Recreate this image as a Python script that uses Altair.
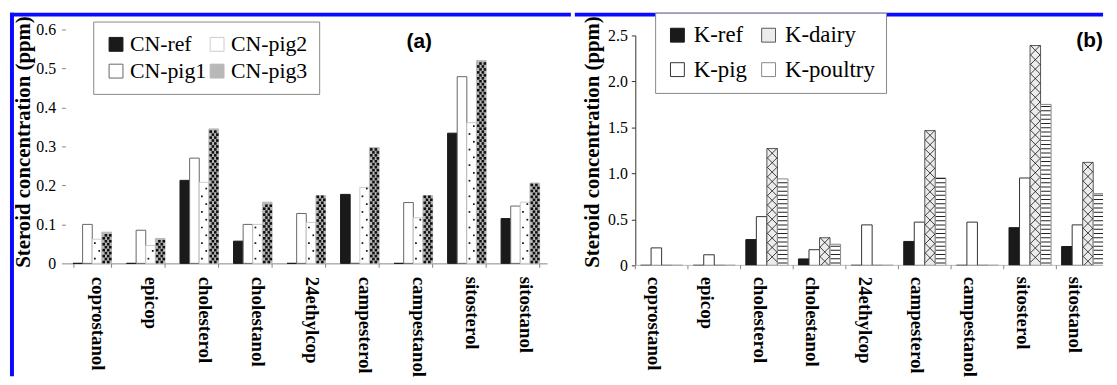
import altair as alt
import pandas as pd

# ---------------- data ----------------
categories = ["coprostanol", "epicop", "cholesterol", "cholestanol", "24ethylcop",
              "campesterol", "campestanol", "sitosterol", "sitostanol"]

cn_series = ["CN-ref", "CN-pig1", "CN-pig2", "CN-pig3"]
cn_ref  = [0.0, 0.0, 0.213, 0.057, 0.0, 0.177, 0.0, 0.334, 0.115]
cn_pig1 = [0.100, 0.085, 0.270, 0.100, 0.128, 0.0, 0.156, 0.479, 0.147]
cn_pig2 = [0.062, 0.046, 0.208, 0.100, 0.105, 0.195, 0.117, 0.361, 0.157]
cn_pig3 = [0.080, 0.064, 0.345, 0.157, 0.174, 0.297, 0.174, 0.520, 0.206]

k_series = ["K-ref", "K-pig", "K-dairy", "K-poultry"]
k_ref     = [0.0, 0.0, 0.28, 0.07, 0.0, 0.26, 0.0, 0.41, 0.205]
k_pig     = [0.19, 0.115, 0.53, 0.17, 0.44, 0.47, 0.47, 0.95, 0.44]
k_dairy   = [0.0, 0.0, 1.27, 0.30, 0.0, 1.465, 0.0, 2.39, 1.12]
k_poultry = [0.0, 0.0, 0.94, 0.23, 0.0, 0.95, 0.0, 1.75, 0.78]

ya_ticks = [0, 0.1, 0.2, 0.3, 0.4, 0.5, 0.6]
yb_ticks = [0, 0.5, 1.0, 1.5, 2.0, 2.5]
y_title = "Steroid concentration (ppm)"


def long_table(series, columns):
    rows = []
    for s, vals in zip(series, columns):
        for c, v in zip(categories, vals):
            rows.append({"steroid": c, "series": s, "value": v})
    return pd.DataFrame(rows)


df_a = long_table(cn_series, [cn_ref, cn_pig1, cn_pig2, cn_pig3])
df_b = long_table(k_series, [k_ref, k_pig, k_dairy, k_poultry])
one = pd.DataFrame({"k": [0]})

SERIF = "Liberation Serif"
SANS = "Liberation Sans"
LBL = "datum.value == 0 ? '0' : format(datum.value, '.1f')"
BLUE = "#0a0aff"


def x_axis(dom_color, ticks, tick_size, pad, off):
    return alt.Axis(title=None, labelAngle=90, labelAlign="left", labelBaseline="middle",
                    labelFont=SERIF, labelFontWeight="bold", labelFontSize=19,
                    labelColor="black", labelPadding=pad, labelOffset=off,
                    labelOverlap=False, labelLimit=300, tickBand="extent",
                    ticks=ticks, domain=ticks, tickSize=tick_size, tickColor="#888",
                    domainColor=dom_color, grid=False)


def y_axis(values, show_domain, title_pad, label_pad):
    return alt.Axis(values=values, labelExpr=LBL, title=y_title, domain=show_domain,
                    domainColor="#333", tickSize=4,
                    tickColor="#333" if show_domain else "#888",
                    labelFont=SERIF, labelFontSize=16, labelColor="black",
                    labelPadding=label_pad, titleFont=SERIF, titleFontWeight="bold",
                    titleFontSize=21, titleColor="black", titlePadding=title_pad,
                    titleY=113, grid=False)


def legend(lx, ly, pad, row_pad, col_pad, lab_off, size):
    return alt.Legend(title=None, orient="none", legendX=lx, legendY=ly, columns=2,
                      labelFont=SERIF, labelFontSize=size, labelColor="black",
                      symbolType="square", symbolSize=196, symbolStrokeColor="#444",
                      symbolStrokeWidth=1, labelOffset=lab_off, columnPadding=col_pad,
                      rowPadding=row_pad, padding=pad, strokeColor="#888",
                      fillColor="white", labelLimit=300)


def flat(df, series, expr):
    return (alt.Chart(df).transform_filter(alt.datum.series == series)
            .transform_calculate(ys=expr).transform_flatten(["ys"]))


# ---------------- panel (a) ----------------
w_a, h_a = 486, 236
xa_scale = alt.Scale(domain=categories, paddingInner=0.28, paddingOuter=0.14)
ya_scale = alt.Scale(domain=[0, 0.6], nice=False)
xa_axis = x_axis("#888", True, 4, 9, 5)
ya_axis = y_axis(ya_ticks, False, 2, 6)
xa = alt.X("steroid:N", sort=categories, scale=xa_scale, axis=xa_axis)


def ya(field):
    return alt.Y(field, scale=ya_scale, axis=ya_axis)


bars_a = alt.Chart(df_a).mark_bar(strokeWidth=1).encode(
    x=xa,
    xOffset=alt.XOffset("series:N", scale=alt.Scale(domain=cn_series, paddingInner=0, paddingOuter=0)),
    y=ya("value:Q"),
    fill=alt.Fill("series:N", scale=alt.Scale(domain=cn_series,
                  range=["#1a1a1a", "#ffffff", "#ffffff", "#b8b8b8"]),
                  legend=legend(28, -8, 12, 5, 0, 3, 22)),
    stroke=alt.Stroke("series:N", scale=alt.Scale(domain=cn_series,
                      range=["#1a1a1a", "#666666", "#cccccc", "#b8b8b8"]), legend=None),
)

step_a = w_a / 9.0
bar_a = step_a * 0.72 / 4

pig2_c = bar_a * 0.5
dots_a = [
    flat(df_a, "CN-pig2", "sequence(0.012, datum.value, 0.04)")
    .mark_square(size=3, color="#111", xOffset=pig2_c - 2.2, opacity=1)
    .encode(x=xa, y=ya("ys:Q")),
    flat(df_a, "CN-pig2", "sequence(0.032, datum.value, 0.04)")
    .mark_square(size=3, color="#111", xOffset=pig2_c + 2.2, opacity=1)
    .encode(x=xa, y=ya("ys:Q")),
]
pig3_c = bar_a * 1.5
checker_a = []
for start, offs in [(0.0035, (-3.0, 1.6)), (0.0111, (-0.8, 3.6))]:
    for o in offs:
        checker_a.append(
            flat(df_a, "CN-pig3", f"sequence({start}, datum.value - 0.002, 0.0152)")
            .mark_square(size=7, color="#111", xOffset=pig3_c + o, opacity=1)
            .encode(x=xa, y=ya("ys:Q")))

# blue frame of the figure (top and left edges); thin white lines fix the outer margin
frame_a = [
    alt.Chart(one).mark_rule(color="white", strokeWidth=1).encode(
        x=alt.value(-57), x2=alt.value(510), y=alt.value(-18.5)),
    alt.Chart(one).mark_rule(color="white", strokeWidth=1).encode(
        x=alt.value(-56.5), y=alt.value(-19), y2=alt.value(340)),
    alt.Chart(one).mark_rule(color=BLUE, strokeWidth=4).encode(
        x=alt.value(-56), x2=alt.value(510), y=alt.value(-15)),
    alt.Chart(one).mark_rule(color=BLUE, strokeWidth=4).encode(
        x=alt.value(-54), y=alt.value(-17), y2=alt.value(350)),
]
label_a = alt.Chart(one).mark_text(font=SANS, fontWeight="bold", fontSize=21,
                                   align="center", baseline="middle", color="black").encode(
    x=alt.value(357), y=alt.value(13), text=alt.value("(a)"))

panel_a = alt.layer(bars_a, *dots_a, *checker_a, *frame_a, label_a).properties(
    width=w_a, height=h_a)

# ---------------- panel (b) ----------------
w_b, h_b = 472, 238
xb_range = 478
xb_scale = alt.Scale(domain=categories, paddingInner=0.2, paddingOuter=0.1, range=[0, xb_range])
yb_scale = alt.Scale(domain=[0, 2.5], nice=False, range=[h_b, 6])
xb_axis = x_axis("#bbbbbb", False, 0, 11, -8)
yb_axis = y_axis(yb_ticks, True, 5, 4)
xb = alt.X("steroid:N", sort=categories, scale=xb_scale, axis=xb_axis)


def yb(field):
    return alt.Y(field, scale=yb_scale, axis=yb_axis)


bars_b = alt.Chart(df_b).mark_bar(strokeWidth=1, clip=True).encode(
    x=xb,
    xOffset=alt.XOffset("series:N", scale=alt.Scale(domain=k_series, paddingInner=0, paddingOuter=0)),
    y=yb("value:Q"),
    fill=alt.Fill("series:N", scale=alt.Scale(domain=k_series,
                  range=["#1a1a1a", "#ffffff", "#ececec", "#ffffff"]),
                  legend=legend(20, -17, 11, 11, 10, 5, 23)),
    stroke=alt.Stroke("series:N", scale=alt.Scale(domain=k_series,
                      range=["#1a1a1a", "#333333", "#555555", "#888888"]), legend=None),
)

step_b = xb_range / 9.0
bar_b = step_b * 0.8 / 4

xcross = (flat(df_b, "K-dairy", "sequence(0, datum.value - 0.09, 0.1024)")
          .transform_calculate(yc="datum.value - 0.0512 - datum.ys")
          .mark_point(shape="M-1,-1L1,1M-1,1L1,-1", size=95, filled=False, clip=True,
                      stroke="#111", strokeWidth=0.8, opacity=1, xOffset=bar_b * 0.5)
          .encode(x=xb, y=yb("yc:Q")))
stripes = (flat(df_b, "K-poultry", "sequence(0.025, datum.value, 0.046)")
           .mark_tick(orient="horizontal", size=9.5, thickness=1, color="#222", clip=True,
                      opacity=1, xOffset=bar_b * 1.5)
           .encode(x=xb, y=yb("ys:Q")))

# x axis line and category separators of panel (b)
base_b = alt.Chart(one).mark_rule(color="#bbbbbb", strokeWidth=1).encode(
    x=alt.value(0), x2=alt.value(w_b), y=alt.value(h_b))
seps_b = (alt.Chart(df_b).transform_filter(alt.datum.series == "K-ref")
          .mark_rule(color="#888", strokeWidth=1, xOffset=-step_b * 0.2 / 2)
          .encode(x=alt.X("steroid:N", sort=categories, scale=xb_scale, axis=xb_axis,
                          bandPosition=0),
                  y=alt.value(h_b), y2=alt.value(h_b + 4)))

frame_b = [
    alt.Chart(one).mark_rule(color="white", strokeWidth=1).encode(
        x=alt.value(-61), x2=alt.value(w_b), y=alt.value(-18.5)),
    alt.Chart(one).mark_rule(color=BLUE, strokeWidth=4).encode(
        x=alt.value(-61), x2=alt.value(w_b), y=alt.value(-15)),
]
label_b = alt.Chart(one).mark_text(font=SANS, fontWeight="bold", fontSize=21,
                                   align="left", baseline="middle", color="black").encode(
    x=alt.value(445), y=alt.value(12), text=alt.value("(b)"))

panel_b = alt.layer(base_b, seps_b, bars_b, xcross, stripes, *frame_b, label_b).properties(
    width=w_b, height=h_b)

chart = (alt.hconcat(panel_a, panel_b, spacing=0)
         .resolve_scale(fill="independent", stroke="independent", xOffset="independent",
                        x="independent", y="independent")
         .resolve_legend(fill="independent", stroke="independent")
         .properties(padding=0, background="white")
         .configure_view(stroke=None))

chart.save("out.html", embed_options={"renderer": "svg", "actions": False})
